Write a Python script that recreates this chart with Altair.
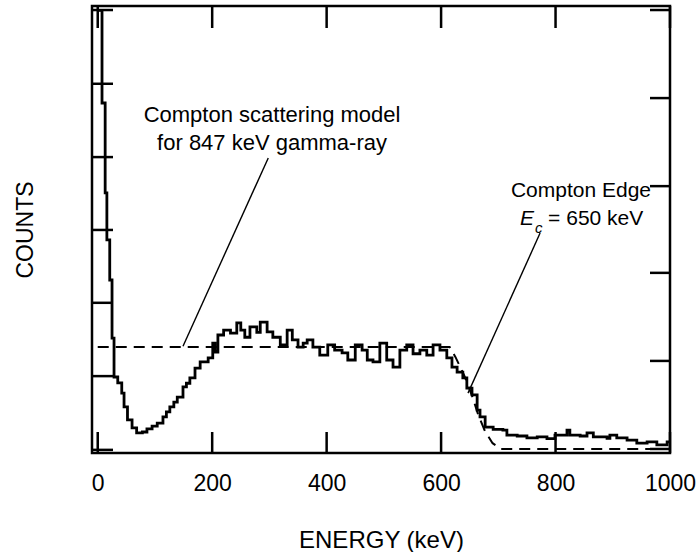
import altair as alt
import pandas as pd

# ---- data ----
hist_energy = [0, 7.5, 13, 16, 21, 25, 28.5, 35, 42, 46, 52, 60, 68, 78, 86, 95, 104, 114, 120, 126,
               133, 139, 149, 155, 161, 170, 179, 193, 201, 205, 210, 220, 232, 243, 250, 257, 266,
               278, 284, 296, 306, 319, 331, 340, 350, 359, 366, 376, 388, 402, 414, 427, 437, 450,
               462, 471, 481, 493, 505, 516, 528, 540, 551, 563, 575, 586, 598, 610, 619, 628, 638,
               645, 654, 663, 668, 677, 691, 708, 715, 733, 750, 768, 785, 799, 820, 825, 843, 855,
               866, 890, 895, 907, 925, 942, 960, 977, 995, 1000]
hist_counts = [99, 78.3, 58.2, 47.7, 38.7, 25.7, 17.0, 15.7, 13.4, 10.3, 7.4, 5.6, 4.5, 4.7, 5.4, 6.0,
               6.7, 8.1, 9.2, 10.3, 11.4, 12.5, 14.8, 15.6, 16.8, 19.0, 20.4, 21.3, 24.6, 22.6, 26.4,
               27.5, 26.8, 29.1, 27.5, 25.9, 28.2, 27.0, 29.3, 27.1, 25.9, 24.2, 27.5, 25.3, 23.7,
               24.6, 25.3, 23.7, 21.9, 24.2, 23.0, 22.4, 20.8, 24.2, 23.0, 20.8, 20.4, 24.6, 20.8,
               19.2, 23.0, 24.2, 22.2, 23.0, 21.9, 24.2, 23.0, 21.3, 19.2, 18.1, 16.8, 14.5, 13.0,
               9.6, 8.1, 5.8, 5.3, 5.1, 4.0, 3.8, 3.4, 3.6, 3.2, 4.0, 5.1, 4.0, 3.8, 4.5, 3.6, 3.3,
               4.0, 3.4, 2.9, 2.2, 2.5, 1.8, 2.5, 2.5]

model_energy = [0, 615, 625, 640, 655, 665, 677, 690, 705, 1000]
model_counts = [23.7, 23.7, 21.5, 17.5, 12.5, 8.5, 4.8, 2.2, 0.9, 0.9]

x_tick_values = [0, 200, 400, 600, 800, 1000]
left_tick_values = [0.7, 17.2, 33.6, 49.9, 66.2, 82.6, 99.1]
right_tick_values = [0.9, 20.6, 40.3, 59.7, 79.4, 99.1]

pointer_group = ["a", "a", "b", "b"]
pointer_energy = [149, 298, 647, 773]
pointer_counts = [23.9, 66.0, 13.4, 49.2]

note_texts = ["Compton scattering model", "for 847 keV gamma-ray"]
note_energy = [304.6, 304.6]
note_counts = [74.0, 67.8]

edge_texts = ["Compton Edge", "= 650 keV"]
edge_energy = [722, 787]
edge_counts = [57.3, 51.0]

FONT = "Liberation Sans"
W, H = 578, 447

xs = alt.Scale(domain=[-10, 1000], nice=False, zero=False)
ys = alt.Scale(domain=[0, 100], nice=False, zero=False)

x_axis = alt.Axis(values=x_tick_values, format="d", title="ENERGY (keV)", grid=False,
                  domain=False, ticks=False, labelPadding=19, labelFontSize=23, titleFontSize=24,
                  labelFont=FONT, titleFont=FONT, titleFontWeight="normal",
                  titlePadding=33, labelColor="black", titleColor="black",
                  labelFlush=False)
y_axis = alt.Axis(labels=False, ticks=False, domain=False, grid=False, title="COUNTS",
                  titleFontSize=23, titleFont=FONT, titleFontWeight="normal",
                  titlePadding=55, titleColor="black")

hist_df = pd.DataFrame({"e": hist_energy, "c": hist_counts})
model_df = pd.DataFrame({"e": model_energy, "c": model_counts})
xt_df = pd.DataFrame({"e": x_tick_values})
lt_df = pd.DataFrame({"c": left_tick_values})
rt_df = pd.DataFrame({"c": right_tick_values})
ptr_df = pd.DataFrame({"g": pointer_group, "e": pointer_energy, "c": pointer_counts})
note_df = pd.DataFrame({"s": note_texts, "e": note_energy, "c": note_counts})
edge_df = pd.DataFrame({"s": edge_texts, "e": edge_energy, "c": edge_counts})
ec_df = pd.DataFrame({"s": ["E"], "e": [738], "c": [51.0]})
sub_df = pd.DataFrame({"s": ["c"], "e": [764], "c": [49.2]})


def X():
    return alt.X("e:Q", scale=xs, axis=x_axis)


def Y():
    return alt.Y("c:Q", scale=ys, axis=y_axis)


model = alt.Chart(model_df).mark_line(color="black", strokeWidth=2, strokeDash=[11, 7]).encode(
    x=X(), y=Y())

hist = alt.Chart(hist_df).mark_line(color="black", strokeWidth=2.8, interpolate="step-after",
                                    clip=True).encode(x=X(), y=Y())

bottom_ticks = alt.Chart(xt_df).mark_rule(color="black", strokeWidth=2.5).encode(
    x=X(), y=alt.value(H), y2=alt.value(H - 21))
top_ticks = alt.Chart(xt_df).mark_rule(color="black", strokeWidth=2.5).encode(
    x=X(), y=alt.value(0), y2=alt.value(22))
left_ticks = alt.Chart(lt_df).mark_rule(color="black", strokeWidth=2.5).encode(
    y=Y(), x=alt.value(0), x2=alt.value(21))
right_ticks = alt.Chart(rt_df).mark_rule(color="black", strokeWidth=2.5).encode(
    y=Y(), x=alt.value(W), x2=alt.value(W - 20))

pointers = alt.Chart(ptr_df).mark_line(color="black", strokeWidth=1.4).encode(
    x=X(), y=Y(), detail="g:N")

notes = alt.Chart(note_df).mark_text(font=FONT, fontSize=22, align="center", baseline="alphabetic",
                                     color="black").encode(x=X(), y=Y(), text="s:N")

edge_notes = alt.Chart(edge_df).mark_text(font=FONT, fontSize=21, align="left",
                                          baseline="alphabetic", color="black").encode(
    x=X(), y=Y(), text="s:N")

ec_note = alt.Chart(ec_df).mark_text(font=FONT, fontSize=21, fontStyle="italic", align="left",
                                     baseline="alphabetic", color="black").encode(
    x=X(), y=Y(), text="s:N")

sub_note = alt.Chart(sub_df).mark_text(font=FONT, fontSize=15, fontStyle="italic", align="left",
                                       baseline="alphabetic", color="black").encode(
    x=X(), y=Y(), text="s:N")

chart = alt.layer(
    model, hist, bottom_ticks, top_ticks, left_ticks, right_ticks, pointers, notes, edge_notes,
    ec_note, sub_note
).properties(
    width=W, height=H,
    background="white",
    autosize=alt.AutoSizeParams(type="none"),
    padding={"left": 92, "top": 6, "right": 27, "bottom": 99},
).configure_view(
    stroke="black", strokeWidth=2.5
)

chart.save("out.html", embed_options={"renderer": "svg", "actions": False})
